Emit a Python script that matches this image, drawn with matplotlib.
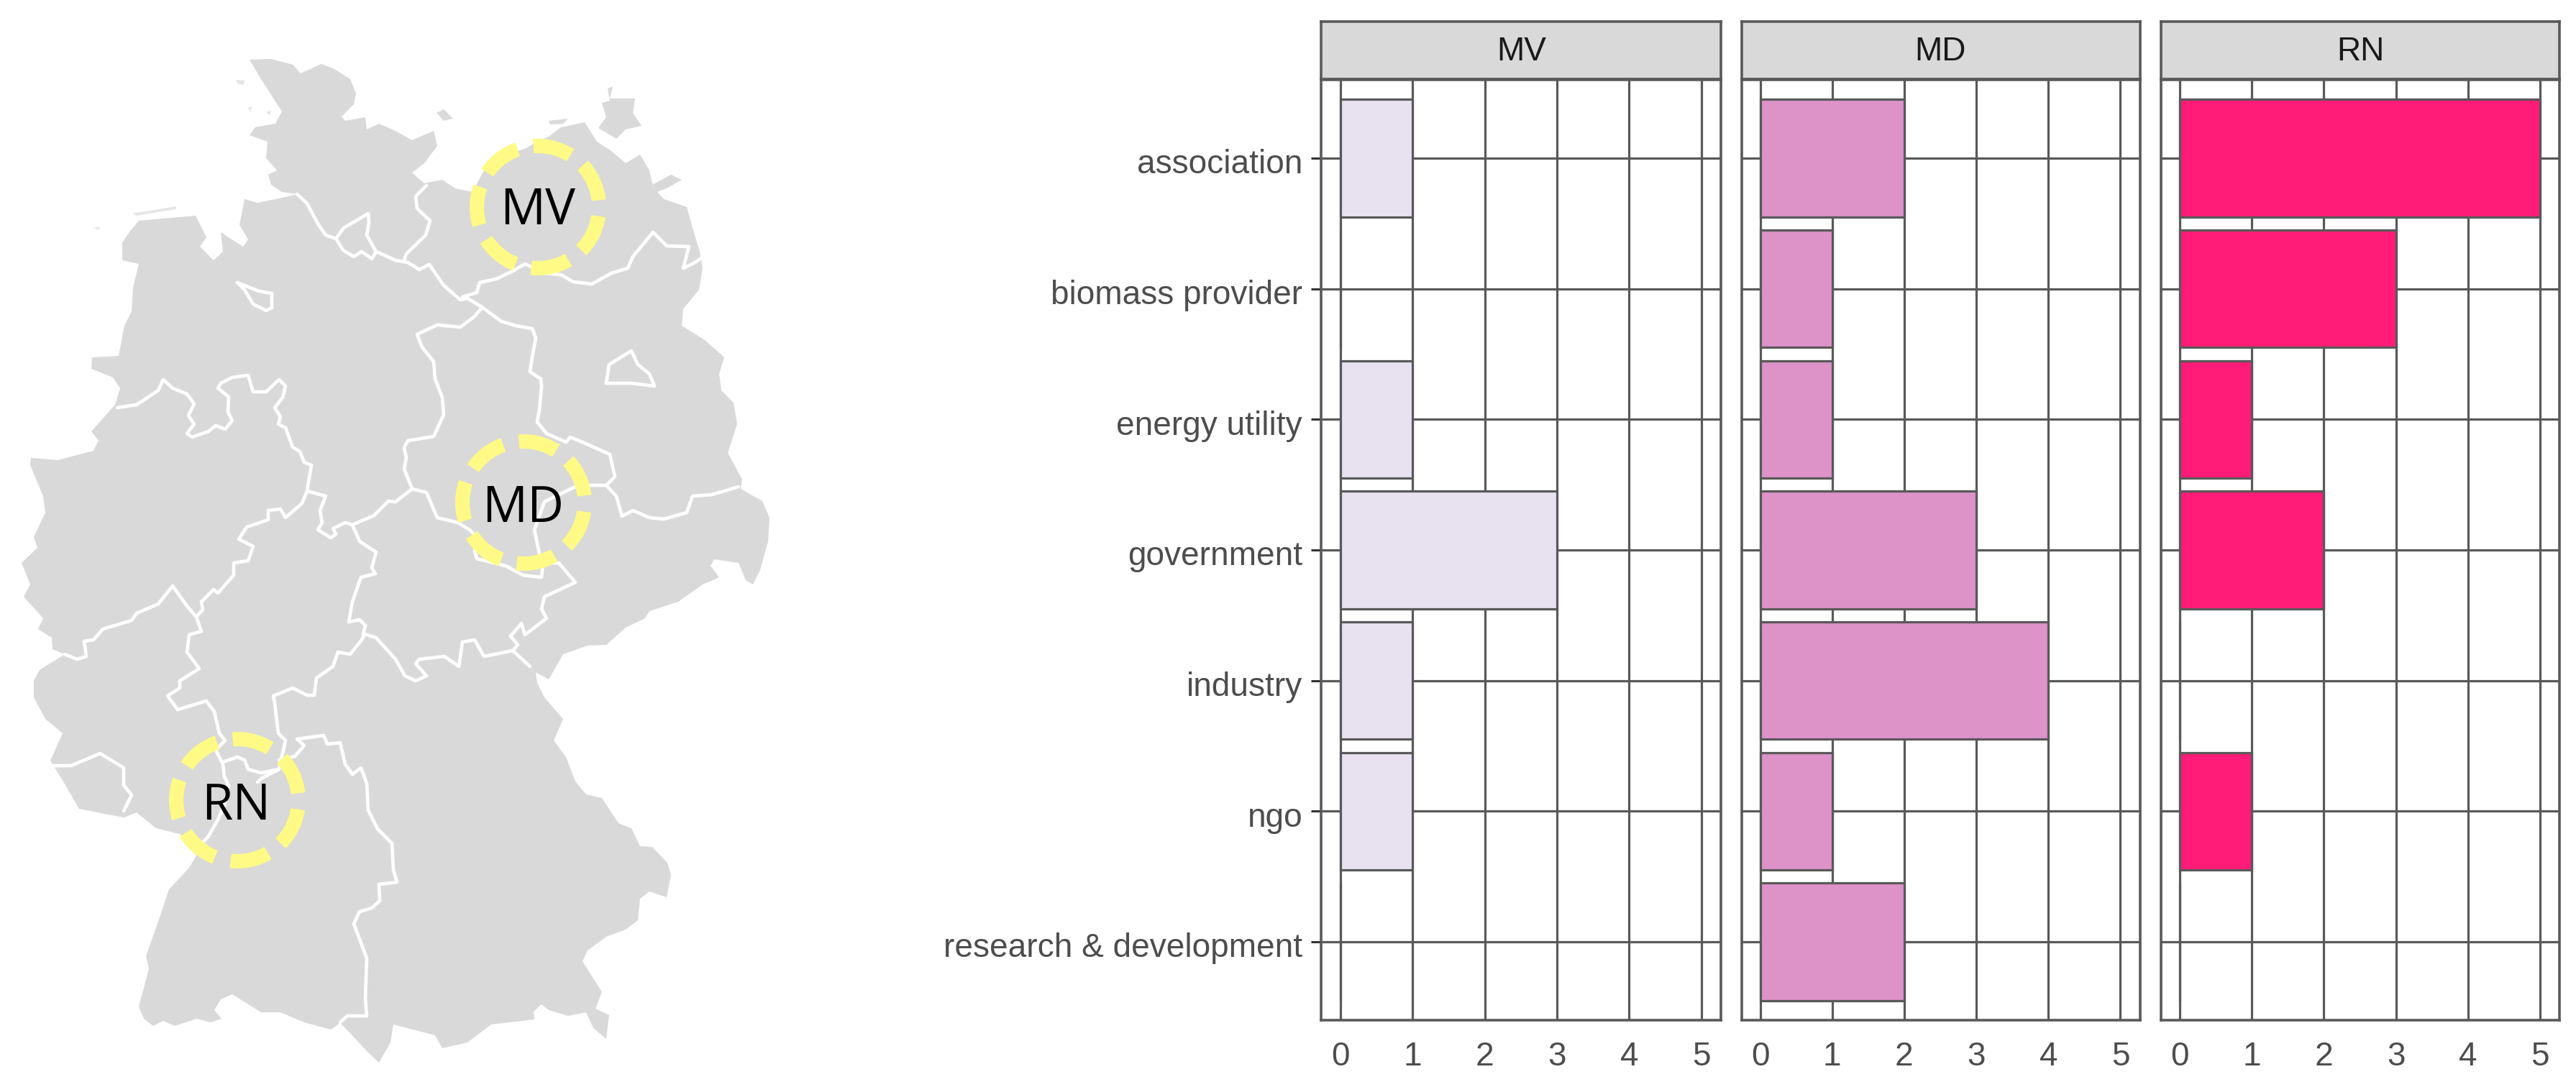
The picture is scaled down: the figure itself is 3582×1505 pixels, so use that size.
import matplotlib
matplotlib.use("Agg")
import matplotlib.pyplot as plt
from matplotlib.patches import Polygon, Wedge
from matplotlib.transforms import ScaledTranslation

# datos de las barras
categorias = ["association", "biomass provider", "energy utility", "government",
              "industry", "ngo", "research & development"]
paneles = ["MV", "MD", "RN"]
conteo_mv = [1, 0, 1, 3, 1, 1, 0]
conteo_md = [2, 1, 1, 3, 4, 1, 2]
conteo_rn = [5, 3, 1, 2, 0, 1, 0]
ticks_x = [0, 1, 2, 3, 4, 5]

# contorno del mapa, en pixeles de la imagen
contorno = [
    (347, 83), (377, 82), (407, 90), (418, 102), (447, 89), (463, 95), (487, 110), (495, 130),
    (492, 145), (475, 162), (480, 168), (508, 163), (510, 180), (527, 172), (550, 182), (573, 195),
    (603, 182), (608, 203), (590, 227), (573, 240), (590, 255), (615, 250), (633, 262), (657, 267),
    (673, 237), (697, 217), (730, 207), (747, 197), (763, 190), (780, 177), (813, 170), (830, 197),
    (850, 210), (870, 227), (890, 215), (903, 237), (908, 260), (923, 277), (955, 288), (963, 317),
    (973, 350), (977, 373), (972, 403), (950, 430), (948, 453), (980, 473), (1007, 497), (1000, 520),
    (1003, 543), (1020, 560), (1025, 590), (1012, 630), (1032, 667), (1030, 680), (1060, 697),
    (1070, 720), (1068, 753), (1057, 793), (1047, 813), (1037, 807), (1027, 783), (993, 778),
    (988, 787), (1000, 803), (977, 813), (943, 837), (903, 850), (897, 860), (870, 873), (843, 897),
    (817, 898), (783, 910), (763, 945), (745, 935), (747, 950), (757, 970), (783, 1000), (770, 1030),
    (787, 1053), (800, 1087), (815, 1105), (837, 1110), (860, 1145), (878, 1152), (890, 1177),
    (907, 1178), (928, 1200), (933, 1217), (927, 1248), (903, 1240), (890, 1250), (887, 1280),
    (870, 1293), (843, 1303), (817, 1322), (810, 1337), (837, 1380), (828, 1403), (847, 1412),
    (843, 1445), (825, 1430), (815, 1408), (790, 1413), (763, 1405), (753, 1397), (742, 1407),
    (743, 1418), (683, 1425), (650, 1450), (615, 1458), (605, 1440), (547, 1425), (543, 1450),
    (527, 1478), (510, 1462), (487, 1437), (473, 1423), (460, 1432), (423, 1422), (390, 1408),
    (363, 1408), (347, 1398), (323, 1383), (307, 1390), (298, 1405), (308, 1417), (293, 1422),
    (273, 1417), (243, 1427), (227, 1420), (213, 1427), (200, 1417), (193, 1400), (202, 1367),
    (207, 1347), (203, 1330), (210, 1310), (223, 1273), (235, 1237), (263, 1207), (273, 1190),
    (250, 1160), (217, 1152), (190, 1130), (173, 1137), (150, 1133), (110, 1125), (88, 1087),
    (70, 1058), (87, 1020), (63, 1000), (47, 970), (47, 947), (55, 932), (90, 910), (73, 903),
    (72, 887), (53, 875), (60, 860), (33, 830), (42, 813), (30, 783), (52, 762), (47, 747),
    (63, 713), (60, 690), (42, 647), (43, 637), (80, 640), (130, 627), (137, 613), (127, 600),
    (160, 563), (167, 540), (157, 525), (127, 513), (128, 497), (165, 495), (173, 453), (183, 433),
    (185, 400), (193, 367), (170, 362), (170, 337), (182, 320), (193, 307), (272, 300), (287, 330),
    (278, 343), (297, 362), (310, 350), (307, 323), (338, 343), (345, 333), (333, 313), (340, 277),
    (358, 282), (393, 275), (413, 270), (392, 267), (377, 257), (373, 243), (385, 237), (370, 220),
    (372, 197), (347, 188), (355, 177), (383, 172), (392, 155), (363, 110),
]

# islas
fehmarn = [(607, 157), (617, 152), (630, 165), (617, 168)]
ruegen = [(837, 143), (848, 140), (845, 123), (852, 120), (848, 137), (873, 137), (883, 137), (880, 157),
          (892, 175), (870, 180), (857, 193), (832, 178), (843, 163)]
usedom = [(907, 257), (933, 243), (948, 250), (927, 262), (913, 267)]
darss = [(763, 168), (790, 165), (783, 172), (765, 173)]
islas_oscuras = [fehmarn, ruegen, usedom, darss]
islas_claras = [
    [(328, 111), (341, 112), (338, 118), (331, 117)],
    [(344, 150), (350, 148), (349, 156)],
    [(370, 156), (377, 154), (375, 160)],
    [(130, 316), (140, 316), (136, 320)],
    [(184, 297), (245, 287), (245, 291), (190, 300)],
]

# fronteras blancas entre estados
fronteras = [
    [(413, 270), (427, 283), (443, 313), (453, 327), (467, 332), (478, 317), (512, 297), (513, 310),
     (510, 327), (523, 350), (530, 353), (550, 362), (567, 365), (583, 375), (597, 368), (617, 397),
     (640, 417), (650, 415), (670, 427), (697, 447), (717, 453), (740, 457), (745, 470), (740, 497),
     (737, 517), (752, 527), (753, 537), (750, 570), (747, 587), (760, 603), (787, 615), (793, 608),
     (817, 618), (848, 632), (855, 663), (843, 675), (857, 690), (865, 718), (880, 710), (903, 720),
     (923, 722), (955, 713), (963, 690), (990, 688), (1027, 677)],
    [(467, 332), (468, 333), (477, 348), (492, 357), (503, 350), (517, 360), (523, 350)],
    [(843, 675), (823, 675), (800, 677), (777, 688), (757, 698), (743, 737), (750, 770), (755, 783)],
    [(755, 783), (777, 783), (800, 810), (757, 830), (753, 847), (760, 860), (730, 883), (725, 867),
     (710, 885), (720, 897), (713, 905), (737, 927)],
    [(713, 905), (673, 913), (660, 890), (643, 893), (638, 927), (618, 913), (583, 917), (578, 923),
     (593, 940), (578, 947), (563, 940), (550, 917), (523, 887), (507, 882)],
    [(670, 428), (660, 440), (640, 455), (608, 452), (580, 465), (587, 483), (603, 503), (605, 527),
     (615, 553), (617, 577), (603, 607), (567, 613), (562, 623), (565, 637), (562, 652), (573, 680),
     (593, 685), (608, 720), (637, 727), (653, 737), (663, 747), (660, 767), (663, 777), (703, 787),
     (727, 800), (753, 803), (755, 783)],
    [(573, 680), (550, 698), (540, 697), (520, 717), (490, 730)],
    [(163, 567), (190, 563), (220, 543), (227, 528), (240, 540), (260, 548), (270, 562), (262, 578),
     (270, 590), (260, 603), (267, 608), (290, 600), (300, 592), (313, 597), (323, 585), (317, 573),
     (318, 552), (303, 540), (307, 533), (323, 525), (345, 522), (352, 545), (370, 545), (388, 528),
     (397, 537), (393, 553), (382, 567), (390, 580), (387, 590), (397, 595), (407, 622), (417, 628),
     (423, 643), (433, 647), (427, 683), (420, 700), (397, 720), (390, 708), (373, 710), (373, 723),
     (343, 733), (332, 750), (352, 760), (345, 780), (325, 783), (325, 800), (303, 825), (297, 820),
     (280, 837), (282, 848), (273, 858), (260, 843), (240, 815), (220, 840), (190, 853), (183, 863),
     (143, 875), (130, 890), (117, 892), (120, 913), (107, 917), (90, 910)],
    [(273, 858), (280, 878), (263, 883), (260, 907), (277, 930), (250, 947), (250, 957), (233, 968),
     (247, 987), (287, 975), (298, 990), (305, 1020), (313, 1030), (300, 1043), (310, 1063), (312, 1080),
     (318, 1093), (312, 1120), (303, 1140), (290, 1163), (282, 1172)],
    [(310, 1060), (330, 1053), (340, 1057), (345, 1070), (363, 1075), (388, 1070), (363, 1083), (358, 1088)],
    [(507, 882), (503, 890), (487, 910), (470, 907), (463, 927), (440, 943), (437, 967), (427, 967),
     (407, 957), (380, 968), (382, 978), (387, 1020), (397, 1030), (388, 1070)],
    [(388, 1057), (410, 1052), (423, 1037), (413, 1028), (450, 1023), (455, 1035), (473, 1033), (480, 1063),
     (490, 1077), (502, 1068), (510, 1090), (512, 1127), (525, 1153), (545, 1173), (547, 1210), (552, 1227),
     (527, 1230), (528, 1253), (517, 1263), (500, 1268), (492, 1285), (510, 1333), (508, 1390), (510, 1413),
     (483, 1413), (473, 1422)],
    [(490, 730), (500, 753), (523, 768), (517, 790), (522, 798), (502, 803), (497, 817), (490, 837),
     (485, 865), (500, 862), (508, 870), (505, 882)],
    [(427, 683), (453, 690), (445, 710), (448, 727), (442, 737), (460, 748), (467, 743), (463, 735),
     (480, 727), (490, 730)],
    [(70, 1065), (99, 1065), (139, 1048), (172, 1068), (172, 1092), (183, 1106), (172, 1128)],
    [(843, 533), (847, 507), (878, 488), (887, 507), (903, 520), (910, 537), (878, 533), (843, 533)],
    [(330, 393), (360, 405), (378, 408), (378, 428), (370, 432), (352, 423), (340, 403), (330, 393)],
    [(977, 358), (963, 367), (950, 373), (958, 343), (927, 342), (908, 323), (880, 357), (873, 373),
     (850, 380), (823, 395), (797, 392), (780, 382), (757, 380), (730, 367), (713, 377), (690, 388),
     (667, 393), (663, 407), (643, 413)],
    [(593, 258), (578, 273), (580, 290), (598, 307), (592, 327), (565, 353), (562, 362)],
]

# circulos punteados y sus etiquetas
circulos = {"MV": (748, 288), "MD": (728, 699), "RN": (330, 1113)}
textos_mapa = {"MV": (748, 294), "MD": (727, 708), "RN": (328, 1122)}

ANCHO = 3582
ALTO = 1505
GRIS_LINEA = "#595959"
COLORES = ["#E8E1F0", "#DD92C8", "#FF1B78"]


def caja(izq, arr, der, aba):
    """Pasa una caja en pixeles a coordenadas de figura"""
    return [izq / ANCHO, 1 - aba / ALTO, (der - izq) / ANCHO, (aba - arr) / ALTO]


fig = plt.figure(figsize=(ANCHO / 100, ALTO / 100), dpi=100, facecolor="white")
plt.rcParams["font.family"] = ["Liberation Sans", "DejaVu Sans"]

# ---- mapa ----
mapa = fig.add_axes([0, 0, 1, 1], zorder=0)
mapa.set_xlim(0, ANCHO)
mapa.set_ylim(ALTO, 0)
mapa.axis("off")
mapa.add_patch(Polygon(contorno, closed=True, facecolor="#D9D9D9", edgecolor="none"))
for isla in islas_oscuras:
    mapa.add_patch(Polygon(isla, closed=True, facecolor="#D9D9D9", edgecolor="none"))
for isla in islas_claras:
    mapa.add_patch(Polygon(isla, closed=True, facecolor="#E6E6E6", edgecolor="none"))
for linea in fronteras:
    xs = [p[0] for p in linea]
    ys = [p[1] for p in linea]
    mapa.plot(xs, ys, color="white", lw=3.4, solid_joinstyle="round", solid_capstyle="round")

# 7 trazos por circulo, el eje y esta invertido por eso los angulos van negativos
for nombre, centro in circulos.items():
    for k in range(7):
        ini = -1 + k * 360 / 7 + 7.5
        mapa.add_patch(Wedge(centro, 95, -(ini + 36.4), -ini, width=20, facecolor="#FFFA85",
                             edgecolor="none", zorder=4))
for nombre, pos in textos_mapa.items():
    mapa.text(pos[0], pos[1], nombre, family="Open Sans", fontsize=50.5, color="black",
              ha="center", va="center", zorder=5)

# ---- paneles ----
lim_paneles = [(1837.5, 2393), (2421.5, 2975.5), (3005, 3559)]
conteos = [conteo_mv, conteo_md, conteo_rn]
posiciones = list(range(len(categorias)))
baja_etiqueta = ScaledTranslation(0, -3 / 72, fig.dpi_scale_trans)

for i, nombre in enumerate(paneles):
    izq, der = lim_paneles[i]
    ax = fig.add_axes(caja(izq, 111, der, 1419), zorder=2)
    ax.set_xlim(-0.26, 5.27)
    ax.set_ylim(6.6, -0.6)
    ax.set_axisbelow(True)
    ax.grid(True, color=GRIS_LINEA, lw=2.3)
    ax.barh(posiciones, conteos[i], height=0.9, color=COLORES[i], edgecolor=GRIS_LINEA, linewidth=2.3)
    ax.set_xticks(ticks_x)
    ax.set_yticks(posiciones)
    ax.tick_params(axis="x", length=0, pad=21, labelsize=33.1, labelcolor="#4D4D4D")
    if i == 0:
        ax.set_yticklabels(categorias)
        ax.tick_params(axis="y", length=10.4, width=2.2, color="#333333", pad=8.6,
                       labelsize=33.1, labelcolor="#4D4D4D")
        for etiqueta in ax.get_yticklabels():
            etiqueta.set_transform(etiqueta.get_transform() + baja_etiqueta)
    else:
        ax.tick_params(axis="y", length=0, labelleft=False)
    for lado in ax.spines.values():
        lado.set_color(GRIS_LINEA)
        lado.set_linewidth(2.6)
        lado.set_zorder(5)

    # franja con el nombre del panel
    franja = fig.add_axes(caja(izq, 30, der, 110), zorder=3)
    franja.set_facecolor("#D9D9D9")
    franja.set_xticks([])
    franja.set_yticks([])
    for lado in franja.spines.values():
        lado.set_color(GRIS_LINEA)
        lado.set_linewidth(2.6)
    franja.text(0.5, 0.47, nombre, transform=franja.transAxes, ha="center", va="center",
                fontsize=33.1, color="#1A1A1A")

fig.savefig("out.png", dpi=100, facecolor="white")
